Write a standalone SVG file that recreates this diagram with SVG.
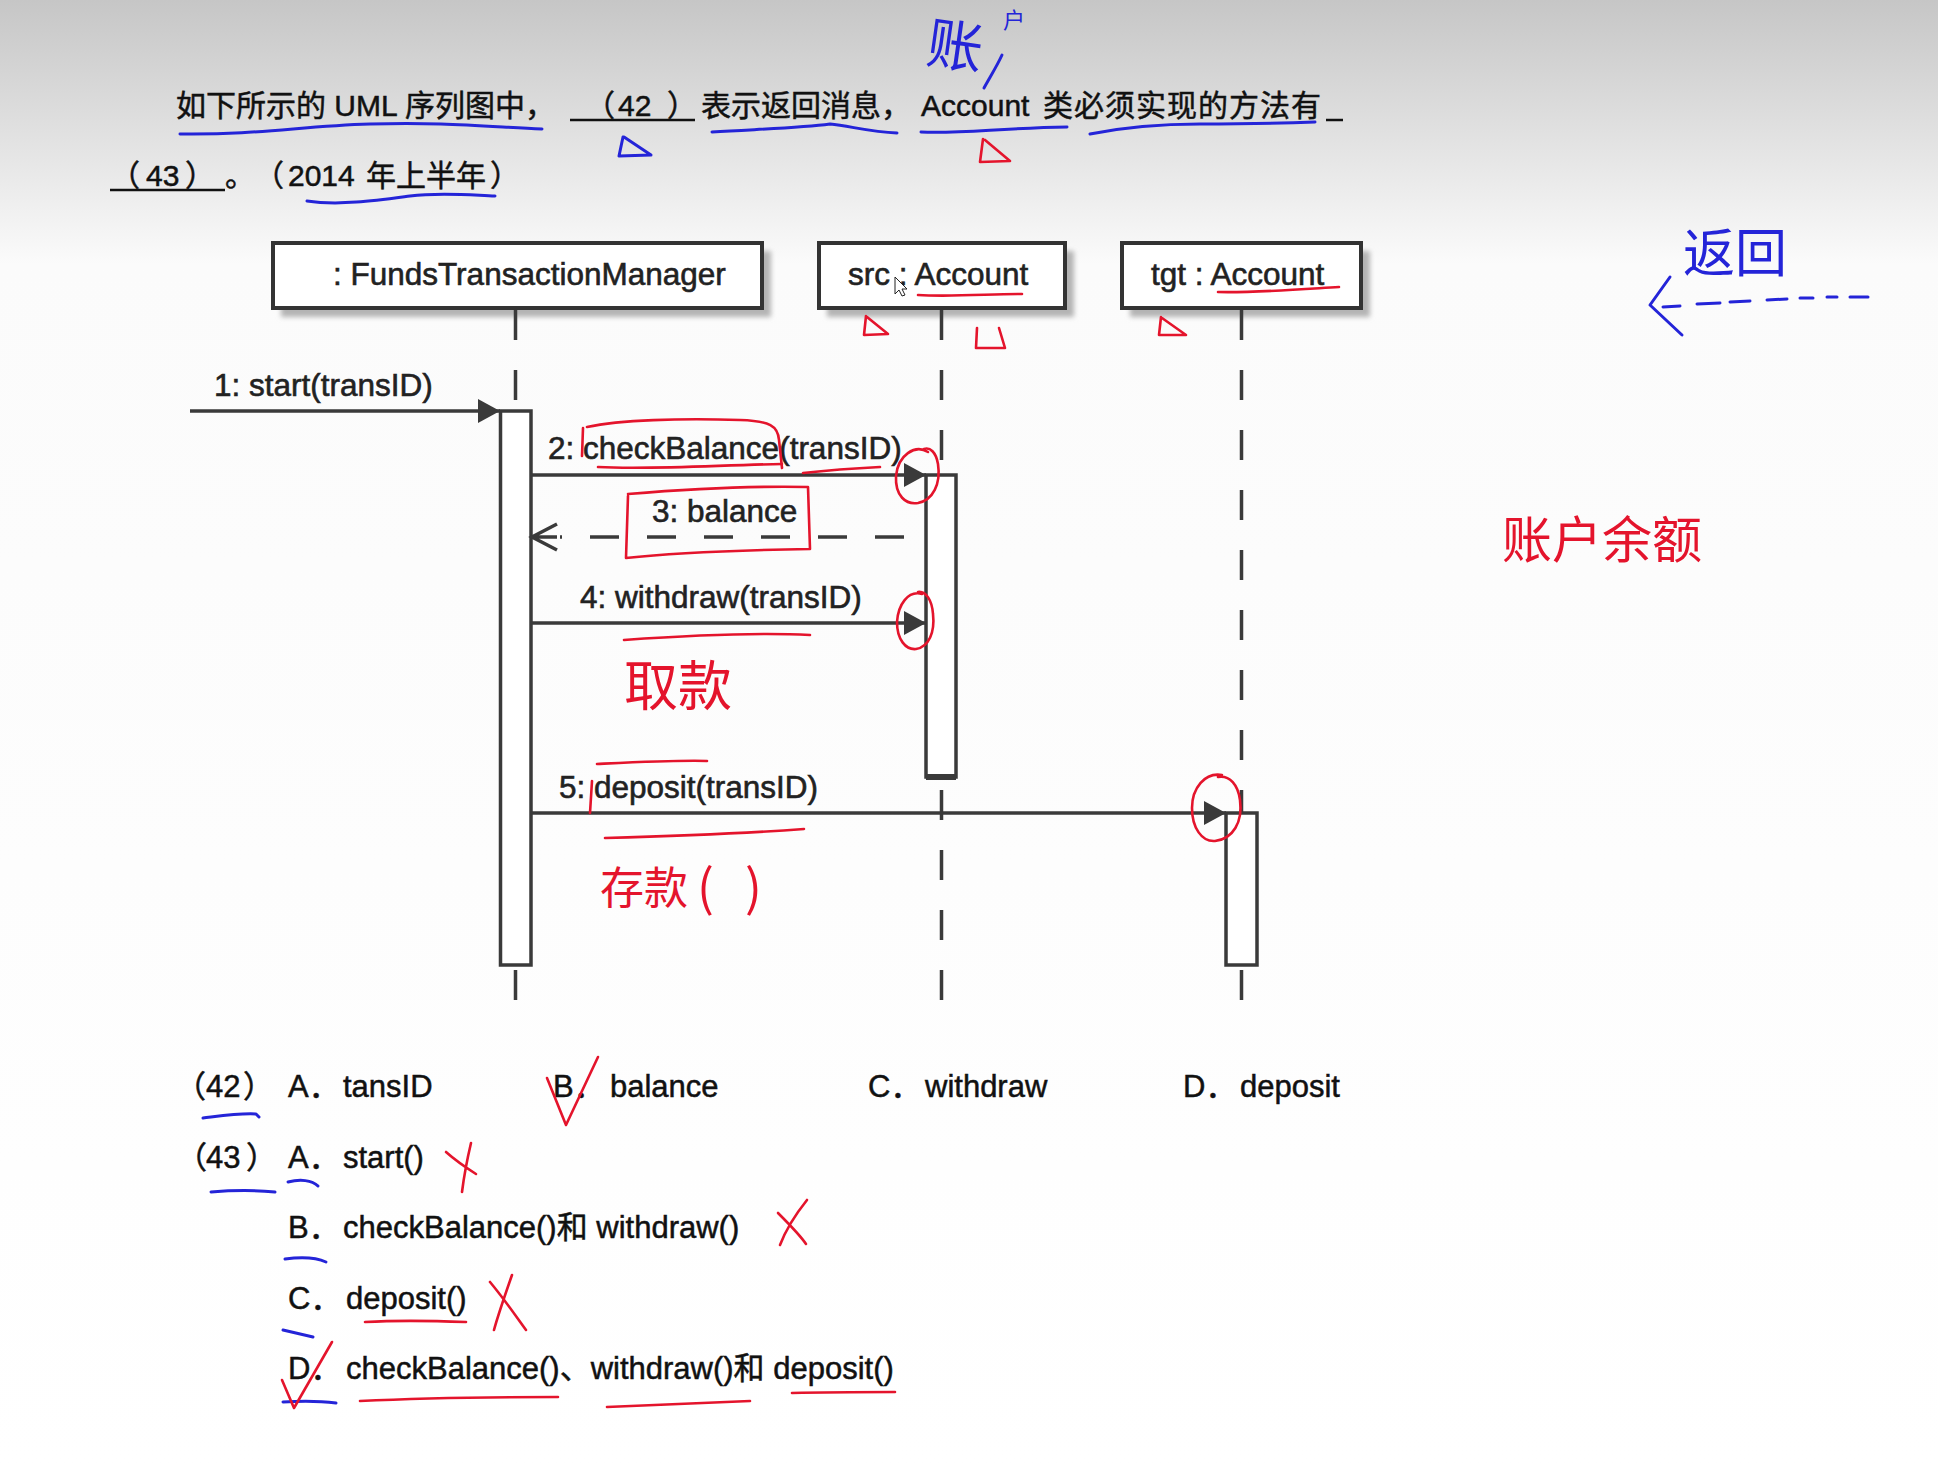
<svg xmlns="http://www.w3.org/2000/svg" width="1938" height="1469" viewBox="0 0 1938 1469">
<style>
.q{font-family:"Liberation Sans","Noto Sans CJK SC",sans-serif;font-size:30px;fill:#111;stroke:#111;stroke-width:0.5}
.d{font-family:"Liberation Sans","Noto Sans CJK SC",sans-serif;font-size:31.5px;fill:#222;stroke:#222;stroke-width:0.6}
.o{font-family:"Liberation Sans","Noto Sans CJK SC",sans-serif;font-size:31px;fill:#111;stroke:#111;stroke-width:0.5}
.box{fill:#fff;stroke:#333;stroke-width:4}
.shadow{fill:#b4b4b4}
.life{stroke:#3a3a3a;stroke-width:3.5;stroke-dasharray:30 30;fill:none}
.act{fill:#fff;stroke:#3a3a3a;stroke-width:3.5}
.msg{stroke:#3a3a3a;stroke-width:3.5;fill:none}
.ret{stroke:#3a3a3a;stroke-width:3.5;stroke-dasharray:29 28;fill:none}
.ul{stroke:#111;stroke-width:2.5}
.blue{stroke:#2424d8;stroke-width:3;fill:none;stroke-linecap:round;stroke-linejoin:round}
.red{stroke:#e4142c;stroke-width:2.6;fill:none;stroke-linecap:round;stroke-linejoin:round}
.hwb{font-family:"Noto Sans CJK SC",sans-serif;fill:#2424d8}
.hwr{font-family:"Noto Sans CJK SC",sans-serif;fill:#e4142c}
</style>
<defs>
<linearGradient id="bg" x1="0" y1="0" x2="0" y2="1469" gradientUnits="userSpaceOnUse">
<stop offset="0" stop-color="#c6c6c6"/>
<stop offset="0.18" stop-color="#fbfbfb"/>
<stop offset="1" stop-color="#ffffff"/>
</linearGradient>
<filter id="blur" x="-5%" y="-20%" width="110%" height="140%"><feGaussianBlur stdDeviation="2.5"/></filter>
<marker id="ah" viewBox="0 0 22 24" refX="22" refY="12" markerWidth="22" markerHeight="24" markerUnits="userSpaceOnUse" orient="auto"><path d="M0,0 L22,12 L0,24 Z" fill="#3a3a3a"/></marker>
</defs>
<rect x="0" y="0" width="1938" height="1469" fill="url(#bg)"/>

<g id="question">
<text class="q" y="116"><tspan x="176">如下所示的 UML 序列图中，</tspan><tspan x="585">（</tspan><tspan x="618">42</tspan><tspan x="667">）</tspan><tspan x="701">表示返回消息，</tspan><tspan x="921">Account</tspan><tspan x="1043" letter-spacing="1">类必须实现的方法有</tspan></text>
<line class="ul" x1="570" y1="120" x2="695" y2="120"/>
<line class="ul" x1="1326" y1="120" x2="1343" y2="120"/>
<text class="q" y="186"><tspan x="110">（</tspan><tspan x="146">43</tspan><tspan x="185">）</tspan><tspan x="225">。</tspan><tspan x="254">（</tspan><tspan x="288">2014</tspan><tspan x="366">年上半年</tspan><tspan x="490">）</tspan></text>
<line class="ul" x1="110" y1="190" x2="225" y2="190"/>
</g>

<g id="ftm">
<rect class="shadow" x="281" y="251" width="490" height="66" filter="url(#blur)"/>
<rect class="box" x="273" y="243" width="489" height="65"/>
<text class="d" x="333" y="285">: FundsTransactionManager</text>
<line class="life" x1="515.5" y1="310" x2="515.5" y2="1003"/>
<rect class="act" x="500.5" y="411" width="30.5" height="554"/>
</g>

<g id="src">
<rect class="shadow" x="827" y="251" width="247" height="66" filter="url(#blur)"/>
<rect class="box" x="819" y="243" width="246" height="65"/>
<text class="d" x="848" y="285">src : Account</text>
<line class="life" x1="941.5" y1="310" x2="941.5" y2="1003"/>
<rect class="act" x="926" y="475" width="30" height="302"/>
<line x1="926" y1="777" x2="956" y2="777" stroke="#3a3a3a" stroke-width="6"/>
</g>

<g id="tgt">
<rect class="shadow" x="1130" y="251" width="240" height="66" filter="url(#blur)"/>
<rect class="box" x="1122" y="243" width="239" height="65"/>
<text class="d" x="1151" y="285">tgt : Account</text>
<line class="life" x1="1241.5" y1="310" x2="1241.5" y2="1003"/>
<rect class="act" x="1226" y="813" width="31" height="152"/>
</g>

<g id="connectors">
<path class="msg" d="M190,411 H500" marker-end="url(#ah)"/>
<text class="d" x="214" y="396">1: start(transID)</text>
<path class="msg" d="M531,475 H926" marker-end="url(#ah)"/>
<text class="d" x="548" y="459">2: checkBalance(transID)</text>
<path class="ret" d="M904,537 H560"/>
<path class="msg" d="M557,524 L532,537 L557,550 M532,537 H557"/>
<text class="d" x="652" y="522">3: balance</text>
<path class="msg" d="M531,623 H926" marker-end="url(#ah)"/>
<text class="d" x="580" y="608">4: withdraw(transID)</text>
<path class="msg" d="M531,813 H1226" marker-end="url(#ah)"/>
<text class="d" x="559" y="798">5: deposit(transID)</text>
</g>

<g id="options">
<text class="o" y="1097"><tspan x="175">（</tspan><tspan x="206">42</tspan><tspan x="243">）</tspan><tspan x="288">A．</tspan><tspan x="343">tansID</tspan><tspan x="553">B．</tspan><tspan x="610">balance</tspan><tspan x="868">C．</tspan><tspan x="925">withdraw</tspan><tspan x="1183">D．</tspan><tspan x="1240">deposit</tspan></text>
<text class="o" y="1168"><tspan x="176">（</tspan><tspan x="206">43</tspan><tspan x="246">）</tspan><tspan x="288">A．</tspan><tspan x="343">start()</tspan></text>
<text class="o" y="1238"><tspan x="288">B．</tspan><tspan x="343">checkBalance()和 withdraw()</tspan></text>
<text class="o" y="1309"><tspan x="288">C．</tspan><tspan x="346">deposit()</tspan></text>
<text class="o" y="1379"><tspan x="288">D．</tspan><tspan x="346">checkBalance()、withdraw()和 deposit()</tspan></text>
</g>

<g id="cursor">
<path d="M895,277 L895,294 L899,290 L902,296 L905,295 L902,289 L907,289 Z" fill="#fff" stroke="#222" stroke-width="1"/>
</g>

<g id="annotations-blue">
<path class="blue" d="M180,134 C260,135 300,126 370,124 S480,126 542,129"/>
<path class="blue" d="M712,132 C760,129 800,128 830,124 C850,126 870,132 897,133"/>
<path class="blue" d="M921,132 C960,134 1000,128 1067,127"/>
<path class="blue" d="M1090,134 C1120,128 1150,124 1200,124 S1290,123 1315,122"/>
<path class="blue" d="M307,201 C340,206 380,200 410,196 S470,195 495,196"/>
<path class="blue" d="M623,137 L619,156 L651,155 L624,137"/>
<text class="hwb" x="928" y="66" font-size="56" transform="rotate(8 955 40)">账</text>
<text class="hwb" x="1003" y="28" font-size="22">户</text>
<path class="blue" d="M1002,55 C997,66 990,77 984,88"/>
<text class="hwb" x="1683" y="272" font-size="52">返回</text>
<path class="blue" d="M1670,277 L1650,305 L1682,335"/>
<path class="blue" d="M1663,307 L1680,306 M1697,304 L1720,303 M1730,302 L1750,301 M1767,300 L1787,299 M1800,298 L1813,298 M1827,297 L1837,297 M1850,297 L1868,297"/>
<path class="blue" d="M203,1118 C220,1116 240,1113 256,1114 L259,1117"/>
<path class="blue" d="M211,1192 C235,1190 255,1190 275,1192"/>
<path class="blue" d="M288,1182 C300,1179 312,1180 318,1186"/>
<path class="blue" d="M285,1259 C300,1257 315,1257 326,1262"/>
<path class="blue" d="M283,1330 L313,1337"/>
<path class="blue" d="M283,1402 C300,1401 320,1401 336,1403"/>
</g>

<g id="annotations-red">
<path class="red" d="M983,139 L980,162 L1010,161 L985,140"/>
<path class="red" d="M918,295 C950,297 990,294 1022,294"/>
<path class="red" d="M1218,292 C1250,293 1290,290 1339,287"/>
<path class="red" d="M866,316 L864,335 L888,334 L867,317"/>
<path class="red" d="M977,328 L976,348 L1005,348 L999,328"/>
<path class="red" d="M1161,317 L1159,335 L1186,335 L1162,318"/>
<path class="red" d="M583,428 L582,456"/>
<path class="red" d="M587,427 C620,420 680,418 740,420 C770,421 778,426 779,440 L782,468"/>
<path class="red" d="M598,467 C650,470 720,465 782,464"/>
<path class="red" d="M803,473 C830,470 860,468 880,467"/>
<path class="red" d="M928,452 C915,444 898,455 896,476 C895,496 906,505 918,503 C933,500 941,484 938,464 C936,452 930,447 924,449"/>
<path class="red" d="M628,496 L626,558 C680,552 750,550 810,549 L808,487 C760,486 700,488 628,494"/>
<path class="red" d="M922,594 C908,590 898,605 897,622 C897,640 906,650 916,649 C929,647 935,632 933,614 C932,600 926,591 918,592"/>
<path class="red" d="M624,640 C680,636 750,632 810,635"/>
<text class="hwr" x="624" y="706" font-size="54">取款</text>
<path class="red" d="M592,781 L590,813"/>
<path class="red" d="M597,764 C640,762 680,760 707,761"/>
<path class="red" d="M605,838 C680,836 750,833 804,829"/>
<path class="red" d="M1222,775 C1205,772 1192,788 1192,808 C1192,828 1202,842 1215,841 C1233,839 1243,822 1240,800 C1238,785 1230,775 1218,777"/>
<text class="hwr" y="904" font-size="44"><tspan x="600">存款</tspan></text>
<text class="hwr" y="906" font-size="50"><tspan x="697">(</tspan><tspan x="745">)</tspan></text>
<text class="hwr" x="1502" y="558" font-size="50">账户余额</text>
<path class="red" d="M547,1078 L566,1125 L598,1057"/>
<path class="red" d="M471,1143 C467,1160 464,1176 462,1192 M446,1152 C455,1160 465,1167 476,1174"/>
<path class="red" d="M807,1200 C795,1215 785,1232 780,1245 M778,1213 C790,1225 800,1235 806,1244"/>
<path class="red" d="M512,1275 C505,1295 498,1315 494,1330 M490,1282 C505,1300 515,1315 526,1330"/>
<path class="red" d="M365,1322 C400,1320 440,1321 466,1322"/>
<path class="red" d="M282,1380 L294,1408 L332,1342"/>
<path class="red" d="M360,1401 C420,1398 500,1397 558,1397"/>
<path class="red" d="M607,1407 C660,1405 710,1403 750,1401"/>
<path class="red" d="M792,1393 C830,1392 870,1392 895,1392"/>
</g>
</svg>
